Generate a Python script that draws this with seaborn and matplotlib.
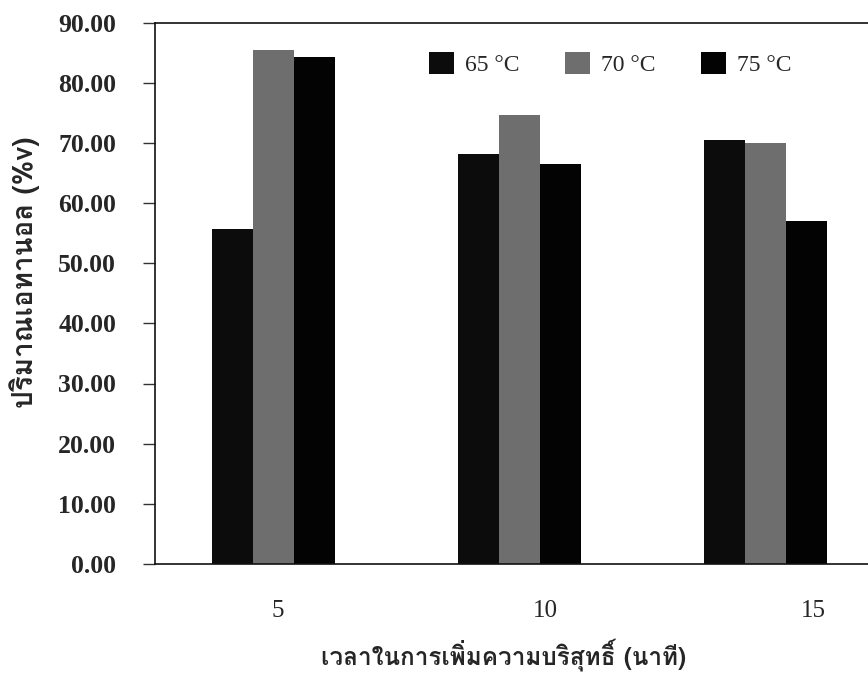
import matplotlib
matplotlib.use("Agg")
import matplotlib.pyplot as plt
from matplotlib import font_manager
import matplotlib.transforms as mtransforms
import seaborn as sns
import pandas as pd
from matplotlib.ticker import FormatStrFormatter

# ---- data ----
times = ["5", "10", "15"]
series = ["65 °C", "70 °C", "75 °C"]
vals_65 = [55.7, 68.1, 70.4]
vals_70 = [85.5, 74.7, 69.9]
vals_75 = [84.2, 66.5, 57.0]
yticks = [0, 10, 20, 30, 40, 50, 60, 70, 80, 90]
xlabel = "เวลาในการเพิ่มความบริสุทธิ์ (นาที)"
ylabel = "ปริมาณเอทานอล (%v)"

df = pd.DataFrame({
    "time": times * 3,
    "series": [series[0]] * 3 + [series[1]] * 3 + [series[2]] * 3,
    "value": vals_65 + vals_70 + vals_75,
})

# find a font that has Thai glyphs
thai_font = None
try:
    from fontTools.ttLib import TTFont
    for fe in font_manager.fontManager.ttflist:
        try:
            f = TTFont(fe.fname, fontNumber=0, lazy=True)
            cmap = f.getBestCmap()
            if cmap and 0x0E1B in cmap and 0x0E34 in cmap:
                thai_font = fe.name
                break
        except Exception:
            pass
except Exception:
    pass

sns.set_theme(style="white")
serif = ["Liberation Serif", "DejaVu Serif"]
plt.rcParams["font.family"] = serif
thai_fam = ([thai_font] if thai_font else []) + ["DejaVu Sans"]

fig = plt.figure(figsize=(8.68, 6.76), dpi=100)
ax = fig.add_axes([155 / 868, (676 - 564) / 676, 1 - 155 / 868 + 0.01, (564 - 22.5) / 676])

palette = ["#0c0c0c", "#6e6e6e", "#030303"]
sns.barplot(data=df, x="time", y="value", hue="series", order=times,
            hue_order=series, palette=palette, width=0.5, saturation=1,
            edgecolor="none", ax=ax)

ax.set_ylim(0, 90)
ax.set_xlim(-0.48, 2.45)
ax.set_yticks(yticks)
ax.yaxis.set_major_formatter(FormatStrFormatter("%.2f"))
ax.tick_params(axis="y", which="major", direction="out", length=9, width=1,
               color="#333333", labelsize=18.5, pad=19, left=True)
ax.tick_params(axis="x", length=0, labelsize=18, pad=26)
for t in ax.get_yticklabels():
    t.set_fontweight("bold")

# slight rightward drift of the category labels as in the scan
shifts = [5, 26, 48]
for lab, dx in zip(ax.get_xticklabels(), shifts):
    lab.set_transform(lab.get_transform() +
                      mtransforms.ScaledTranslation(dx / 100, 0, fig.dpi_scale_trans))

for s in ["left", "bottom", "top"]:
    ax.spines[s].set_visible(True)
    ax.spines[s].set_color("#111111")
    ax.spines[s].set_linewidth(1.2)
ax.spines["right"].set_visible(False)

ax.set_xlabel("")
ax.set_ylabel("")
fig.text(504 / 868, 1 - 655 / 676, xlabel, family=thai_fam, fontsize=17.5,
         fontweight="bold", ha="center", va="center")
fig.text(25 / 868, 1 - 272 / 676, ylabel, family=thai_fam, fontsize=20,
         fontweight="bold", ha="center", va="center", rotation=90)

leg = ax.legend(loc="upper left", bbox_to_anchor=(0.35, 0.985), ncol=3, frameon=False,
                fontsize=17, handlelength=1.05, handleheight=1.05, columnspacing=1.9,
                handletextpad=0.5)
leg.set_title(None)

fig.savefig("out.png", dpi=100)
